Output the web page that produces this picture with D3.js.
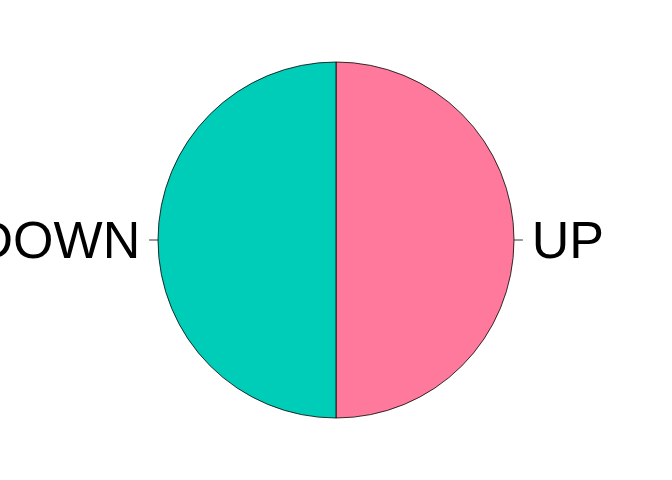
<!DOCTYPE html>
<html><head><meta charset="utf-8">
<script src="https://cdn.jsdelivr.net/npm/d3@7"></script>
<style>body{margin:0;background:#fff}</style></head>
<body><svg id="c" width="672" height="480"></svg>
<script>
const categories = ["UP", "DOWN"];
const values = [50, 50];
const colors = ["#FF799C", "#00CDB8"];

const svg = d3.select("#c");
const cx = 336, cy = 240, r = 178;
const g = svg.append("g").attr("transform", `translate(${cx},${cy})`);
const pie = d3.pie().sort(null).value(d => d.v).startAngle(0).endAngle(2*Math.PI);
const data = pie(categories.map((c,i)=>({c, v: values[i], col: colors[i]})));
const arc = d3.arc().innerRadius(0).outerRadius(r);
g.selectAll("path").data(data).join("path")
  .attr("d", arc).attr("fill", d=>d.data.col).attr("stroke","#000").attr("stroke-width",0.8);
data.forEach(d=>{
  const a = (d.startAngle + d.endAngle)/2;
  const sx = Math.sin(a), sy = -Math.cos(a);
  g.append("line").attr("x1", sx*r).attr("y1", sy*r).attr("x2", sx*r*1.05).attr("y2", sy*r*1.05)
    .attr("stroke","#000").attr("stroke-width",0.8);
  g.append("text").attr("x", sx*r*1.1).attr("y", sy*r*1.1).attr("dy","0.35em")
    .attr("text-anchor", sx>0?"start":"end")
    .attr("font-family","Liberation Sans, Arial, sans-serif").attr("font-size",52)
    .text(d.data.c);
});
</script></body></html>
